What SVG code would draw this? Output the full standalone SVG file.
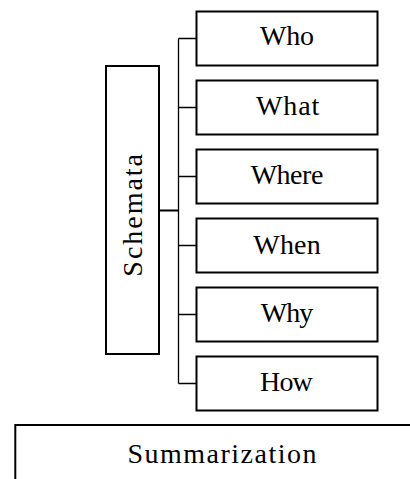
<svg xmlns="http://www.w3.org/2000/svg" width="410" height="479" viewBox="0 0 410 479">
<style>
.box{fill:#fff;stroke:#000;stroke-width:2}
.lbl{font-family:"Liberation Serif","Times New Roman",serif;font-size:28px;fill:#000;text-anchor:middle}
.conn{stroke:#000;stroke-width:1.3;fill:none}
</style>
<rect width="410" height="479" fill="#fff"/>
<g id="connectors">
<path class="conn" d="M178.5 38.5V383.5M178.5 38.5H196.5M178.5 107.5H196.5M178.5 176.5H196.5M178.5 245.5H196.5M178.5 314.5H196.5M178.5 383.5H196.5"/>
<path d="M160 210.5H178.5" stroke="#000" stroke-width="2"/>
</g>
<g id="schemata">
<rect class="box" x="106" y="66" width="53" height="288"/>
<text class="lbl" transform="translate(141.7,215.3) rotate(-90)" textLength="122.7">Schemata</text>
</g>
<g id="who">
<rect class="box" x="196.5" y="11.5" width="181" height="54"/>
<text class="lbl" x="287" y="45" textLength="54">Who</text>
</g>
<g id="what">
<rect class="box" x="196.5" y="80.5" width="181" height="54"/>
<text class="lbl" x="287.6" y="114.5" textLength="63.3">What</text>
</g>
<g id="where">
<rect class="box" x="196.5" y="149.5" width="181" height="54"/>
<text class="lbl" x="287" y="184" textLength="72.7">Where</text>
</g>
<g id="when">
<rect class="box" x="196.5" y="218.5" width="181" height="54"/>
<text class="lbl" x="287" y="253.5" textLength="67.3">When</text>
</g>
<g id="why">
<rect class="box" x="196.5" y="287.5" width="181" height="54"/>
<text class="lbl" x="287" y="322" textLength="52.7">Why</text>
</g>
<g id="how">
<rect class="box" x="196.5" y="356.5" width="181" height="54"/>
<text class="lbl" x="286.4" y="391" textLength="52.7">How</text>
</g>
<g id="summarization">
<rect class="box" x="15.3" y="425" width="430" height="100"/>
<text class="lbl" x="222" y="462.7" textLength="189">Summarization</text>
</g>
</svg>
